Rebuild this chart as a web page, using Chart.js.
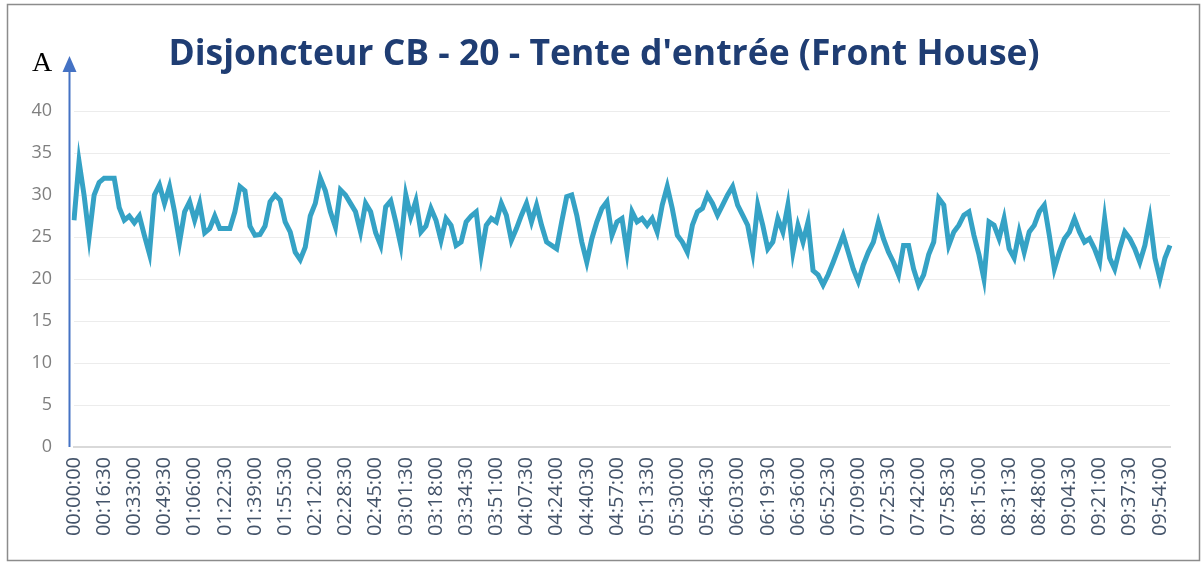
<!DOCTYPE html>
<html>
<head>
<meta charset="utf-8">
<script src="https://cdn.jsdelivr.net/npm/chart.js@4.4.0/dist/chart.umd.min.js"></script>
<style>
  html, body { margin: 0; padding: 0; background: #fff; }
  #wrap { width: 1203px; height: 563px; }
</style>
</head>
<body>
<div id="wrap"><canvas id="cbChart"></canvas></div>
<script>
// current readings (A), one every 2 min 45 s from 00:00:00
const current = [
  27, 34, 30, 25, 30, 31.5, 32, 32, 32, 28.5,
  27, 27.5, 26.7, 27.5, 25.2, 23, 30, 31.2, 29, 31,
  28, 24.4, 28, 29.2, 27, 29, 25.5, 26, 27.5, 26,
  26, 26, 28, 31, 30.5, 26.3, 25.2, 25.3, 26.3, 29.2,
  30, 29.4, 26.8, 25.6, 23.2, 22.3, 23.8, 27.5, 29, 32,
  30.5, 28, 26.2, 30.6, 30, 29, 28, 25.6, 29, 28,
  25.5, 24, 28.6, 29.3, 26.8, 24, 30, 27.4, 29.3, 25.6,
  26.3, 28.4, 27, 24.6, 27.2, 26.4, 24, 24.4, 26.8, 27.5,
  28, 22.9, 26.4, 27.2, 26.8, 29, 27.6, 24.6, 26, 27.6,
  29, 26.8, 28.8, 26.4, 24.4, 24, 23.6, 26.8, 29.8, 30,
  27.6, 24.4, 22, 24.8, 26.8, 28.4, 29.2, 25.2, 26.8, 27.2,
  23.2, 28, 26.8, 27.2, 26.4, 27.2, 25.6, 28.8, 31, 28.4,
  25.2, 24.4, 23.2, 26.4, 28, 28.4, 30, 29, 27.6, 28.8,
  30, 31, 28.8, 27.6, 26.4, 23.2, 28.8, 26.4, 23.6, 24.4,
  27.2, 25.6, 28.8, 23.2, 26.4, 24.4, 26.8, 21, 20.5, 19.3,
  20.5, 22, 23.6, 25.2, 23.2, 21.2, 19.7, 21.7, 23.2, 24.4,
  26.8, 24.8, 23.2, 22, 20.5, 24, 24, 21.2, 19.3, 20.5,
  22.9, 24.4, 29.6, 28.8, 24, 25.6, 26.4, 27.6, 28, 25.2,
  22.9, 20, 26.8, 26.4, 24.8, 27.2, 23.6, 22.5, 25.6, 23.2,
  25.6, 26.4, 28, 28.8, 25.2, 21.2, 23.2, 24.8, 25.6, 27.2,
  25.6, 24.4, 24.8, 23.6, 22, 27.2, 22.5, 21.2, 23.6, 25.6,
  24.8, 23.6, 22, 24, 27.2, 22.5, 20, 22.5, 24
];

// time stamps hh:mm:ss, step 165 s; every 6th one is shown on the axis
const stepSeconds = 165;
const labelEvery = 6;
const times = current.map((v, i) => {
  const s = i * stepSeconds;
  const pad = n => String(n).padStart(2, '0');
  return pad(Math.floor(s / 3600)) + ':' + pad(Math.floor(s / 60) % 60) + ':' + pad(s % 60);
});

const yTicks = [0, 5, 10, 15, 20, 25, 30, 35, 40];
const titleText = "Disjoncteur CB - 20 - Tente d'entrée (Front House)";
const unitLabel = 'A';

// frame, title, blue axis arrow and the "A" unit
const decorations = {
  id: 'decorations',
  beforeDraw(chart) {
    const c = chart.ctx;
    c.save();
    c.fillStyle = '#fff';
    c.fillRect(0, 0, chart.width, chart.height);
    c.restore();
  },
  afterDraw(chart) {
    const c = chart.ctx;
    const area = chart.chartArea;
    c.save();
    c.strokeStyle = '#8c8c8c';
    c.lineWidth = 1.5;
    c.strokeRect(7.5, 4.5, 1192, 556);

    c.fillStyle = '#1F3D73';
    c.font = 'bold 35.5px "Open Sans"';
    c.textAlign = 'center';
    c.textBaseline = 'middle';
    c.fillText(titleText, 604, 55);

    const ax = area.left - 4.5;
    c.strokeStyle = '#4472C4';
    c.fillStyle = '#4472C4';
    c.lineWidth = 2;
    c.beginPath();
    c.moveTo(ax, area.bottom);
    c.lineTo(ax, 70);
    c.stroke();
    c.beginPath();
    c.moveTo(ax, 56);
    c.lineTo(ax - 7, 72);
    c.lineTo(ax + 7, 72);
    c.closePath();
    c.fill();

    c.fillStyle = '#000';
    c.font = '28px "Liberation Serif"';
    c.textAlign = 'center';
    c.textBaseline = 'alphabetic';
    c.fillText(unitLabel, 42, 71);
    c.restore();
  }
};

new Chart(document.getElementById('cbChart'), {
  type: 'line',
  data: {
    labels: times,
    datasets: [{
      data: current,
      borderColor: '#35A2C5',
      borderWidth: 5,
      pointRadius: 0,
      tension: 0,
      fill: false
    }]
  },
  options: {
    responsive: true,
    maintainAspectRatio: false,
    animation: false,
    layout: { padding: { top: 111, left: 8, right: 33, bottom: 0 } },
    plugins: {
      legend: { display: false },
      tooltip: { enabled: false },
      title: { display: false }
    },
    scales: {
      x: {
        offset: false,
        grid: { display: false, drawTicks: false },
        border: { display: true, color: '#d9d9d9', width: 2 },
        afterFit: s => { s.height = 116; },
        ticks: {
          autoSkip: false,
          minRotation: 90,
          maxRotation: 90,
          padding: 10,
          color: '#44546A',
          font: { family: 'Open Sans', size: 20 },
          callback: function (val, i) {
            return i % labelEvery === 0 ? this.getLabelForValue(val) : null;
          }
        }
      },
      y: {
        min: yTicks[0],
        max: yTicks[yTicks.length - 1],
        afterBuildTicks: s => { s.ticks = yTicks.map(v => ({ value: v })); },
        afterFit: s => { s.width = 66; },
        grid: { color: '#ececec', drawTicks: false },
        border: { display: false },
        ticks: {
          padding: 22,
          color: '#7f7f7f',
          font: { family: 'Open Sans', size: 18 }
        }
      }
    }
  },
  plugins: [decorations]
});
</script>
</body>
</html>
